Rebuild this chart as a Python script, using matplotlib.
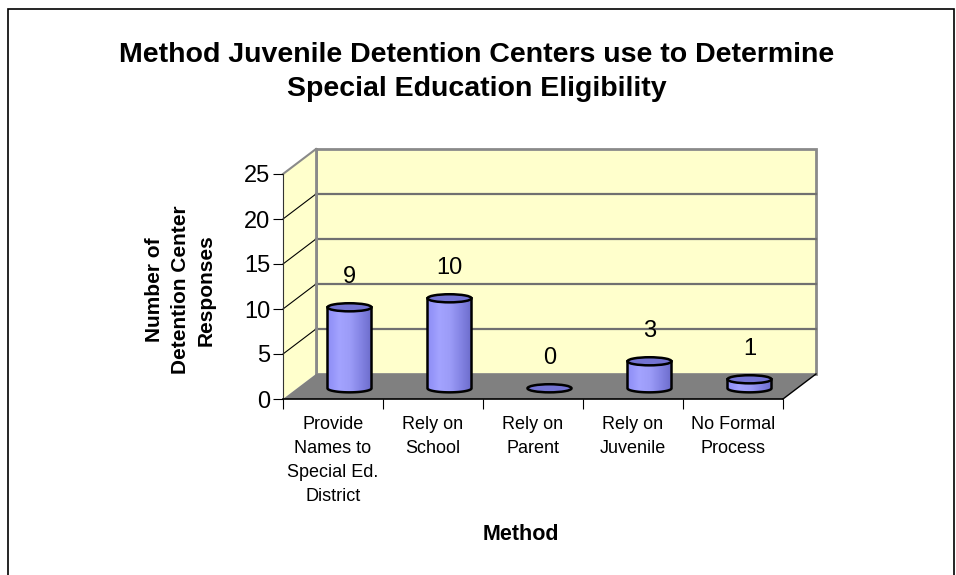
import numpy as np
import matplotlib.pyplot as plt
from matplotlib.patches import Polygon, Ellipse, Rectangle
from matplotlib.colors import LinearSegmentedColormap

plt.rcParams['font.family'] = ['Liberation Sans', 'DejaVu Sans']

# data
categories = ["Provide\nNames to\nSpecial Ed.\nDistrict", "Rely on\nSchool",
              "Rely on\nParent", "Rely on\nJuvenile", "No Formal\nProcess"]
responses = [9, 10, 0, 3, 1]
yticks = [0, 5, 10, 15, 20, 25]

title = "Method Juvenile Detention Centers use to Determine\nSpecial Education Eligibility"
xlabel = "Method"
ylabel = "Number of\nDetention Center\nResponses"

# 3d depth offset in data units (x: categories, y: values)
DX, DY = 0.33, 2.78
WALL = '#FFFFCC'
FLOOR = '#808080'
GRID = '#707070'

fig = plt.figure(figsize=(9.56, 5.75), dpi=100)
fig.add_artist(Rectangle((8 / 956, -0.1), 946 / 956, 1.1 - 9 / 575,
                         transform=fig.transFigure, fill=False, lw=1.2, ec='black'))

ax = fig.add_axes([283 / 956, 176 / 575, 500 / 956, 225 / 575])
ax.patch.set_visible(False)
n = len(categories)
top = yticks[-1]

# back wall, side wall, floor
ax.add_patch(Polygon([(DX, DY), (n + DX, DY), (n + DX, top + DY), (DX, top + DY)],
                     fc=WALL, ec='#8a8a8a', lw=2, clip_on=False, zorder=0.5))
ax.add_patch(Polygon([(0, 0), (DX, DY), (DX, top + DY), (0, top)],
                     fc=WALL, ec='none', clip_on=False, zorder=0.5))
ax.add_patch(Polygon([(0, 0), (n, 0), (n + DX, DY), (DX, DY)],
                     fc=FLOOR, ec='none', clip_on=False, zorder=0.6))
for y in yticks[1:-1]:
    ax.plot([DX, n + DX], [y + DY, y + DY], color=GRID, lw=1.6, clip_on=False, zorder=0.55)
    ax.plot([0, DX], [y, y + DY], color='black', lw=0.8, clip_on=False, zorder=0.55)
ax.plot([0, DX], [top, top + DY], color='#8a8a8a', lw=1.5, clip_on=False, zorder=0.7)
ax.plot([n, n + DX], [0, DY], color='black', lw=1.0, clip_on=False, zorder=0.7)
ax.plot([DX, DX], [DY, top + DY], color='#8a8a8a', lw=2, clip_on=False, zorder=0.58)

# cylinders
cmap = LinearSegmentedColormap.from_list(
    'cyl', ['#8E8EF6', '#A3A3FF', '#9C9CF8', '#8484E4', '#6C6CCB'])
grad = np.linspace(0, 1, 64).reshape(1, -1)
w, eh = 0.44, 0.9
base = DY / 2 - 0.2
for i, v in enumerate(responses):
    cx = i + 0.5 + DX / 2
    x0, x1 = cx - w / 2, cx + w / 2
    t = np.linspace(np.pi, 2 * np.pi, 40)
    bottom_arc = list(zip(cx + w / 2 * np.cos(t), base + eh / 2 * np.sin(t)))
    body = [(x0, base + v)] + bottom_arc + [(x1, base + v)]
    if v > 0:
        pg = Polygon(body, closed=True, fc='none', ec='none')
        ax.add_patch(pg)
        im = ax.imshow(grad, extent=[x0, x1, base - eh, base + v], aspect='auto',
                       cmap=cmap, zorder=2)
        im.set_clip_path(pg)
        ax.add_patch(Polygon(body, closed=True, fc='none', ec='black', lw=1.8, zorder=2.2))
    ax.add_patch(Ellipse((cx, base + v), w, eh, fc='#7373D2', ec='black', lw=1.8, zorder=2.3))
    ax.text(cx, base + v + 3.4, str(v), ha='center', va='center', fontsize=17)

# axes
ax.set_xlim(0, n)
ax.set_ylim(0, top)
ax.spines[['top', 'right']].set_visible(False)
ax.spines['left'].set_color('#333333')
ax.spines['bottom'].set_linewidth(1.2)
ax.spines['bottom'].set_zorder(3)
ax.set_yticks(yticks)
ax.set_xticks(range(n + 1))
ax.set_xticklabels([])
ax.set_xticks([i + 0.5 for i in range(n)], minor=True)
ax.set_xticklabels(categories, minor=True, fontsize=13, linespacing=1.55)
ax.tick_params(axis='x', which='major', length=7, direction='out')
ax.tick_params(axis='x', which='minor', length=0, pad=12)
ax.tick_params(axis='y', length=7, labelsize=17, pad=2)

fig.text(180 / 956, 1 - 290 / 575, ylabel, rotation=90, ha='center', va='center',
         fontsize=15, fontweight='bold', linespacing=1.45)
ax.set_xlabel(xlabel, fontsize=15.5, fontweight='bold')
ax.xaxis.set_label_coords(0.476, -0.555)

fig.text(477 / 956, 1 - 72 / 575, title, ha='center', va='center',
         fontsize=20.5, fontweight='bold', linespacing=1.4)

fig.savefig('out.png', dpi=100)
